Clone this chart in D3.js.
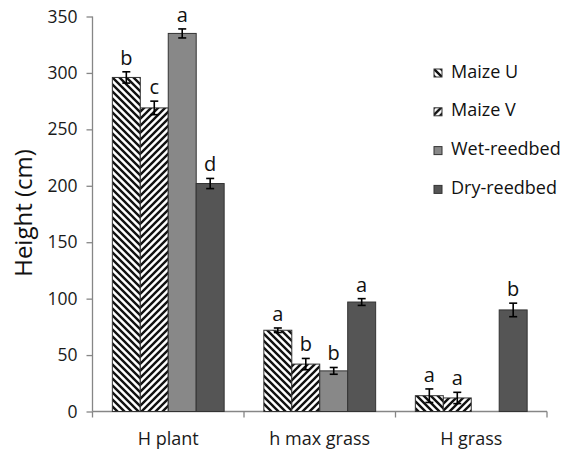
<!DOCTYPE html>
<html>
<head>
<meta charset="utf-8">
<script src="https://cdn.jsdelivr.net/npm/d3@7"></script>
<style>
  body { margin: 0; background: #fff; }
  text { font-family: "Open Sans", Lato, sans-serif; }
</style>
</head>
<body>
<script>
// categories and series
const categories = ["H plant", "h max grass", "H grass"];
const series = ["Maize U", "Maize V", "Wet-reedbed", "Dry-reedbed"];

// means per series, in category order
const maizeU = [296, 72, 14];
const maizeV = [269, 42, 12];
const wetReedbed = [335, 36, null];
const dryReedbed = [202, 97, 90];

// standard errors
const errMaizeU = [5, 2, 6];
const errMaizeV = [6, 5, 5];
const errWet = [4, 3, null];
const errDry = [4.5, 3, 6];

// significance letters
const letMaizeU = ["b", "a", "a"];
const letMaizeV = ["c", "b", "a"];
const letWet = ["a", "b", ""];
const letDry = ["d", "a", "b"];

const yTicks = [0, 50, 100, 150, 200, 250, 300, 350];

const values = [maizeU, maizeV, wetReedbed, dryReedbed];
const errors = [errMaizeU, errMaizeV, errWet, errDry];
const letters = [letMaizeU, letMaizeV, letWet, letDry];

let data = [];
categories.forEach((c, ci) => {
    series.forEach((s, si) => {
        data.push({
            cat: c, ser: s,
            value: values[si][ci],
            err: errors[si][ci],
            letter: letters[si][ci]
        });
    });
});

const width = 567, height = 451;
const mLeft = 92.5, mRight = 547, mTop = 16.5, mBottom = 411.5;

const svg = d3.select("body").append("svg")
    .attr("width", width)
    .attr("height", height);

// hatch patterns
const defs = svg.append("defs");
function hatch(id, dir) {
    const p = defs.append("pattern")
        .attr("id", id)
        .attr("patternUnits", "userSpaceOnUse")
        .attr("width", 7).attr("height", 7);
    p.append("rect").attr("width", 7).attr("height", 7).attr("fill", "#fff");
    const d = dir > 0
        ? "M-1,6 L1,8 M0,0 L7,7 M6,-1 L8,1"
        : "M-1,1 L1,-1 M0,7 L7,0 M6,8 L8,6";
    p.append("path").attr("d", d)
        .attr("stroke", "#111").attr("stroke-width", 2.4);
}
hatch("hatchU", 1);
hatch("hatchV", -1);

const fills = {
    "Maize U": "url(#hatchU)",
    "Maize V": "url(#hatchV)",
    "Wet-reedbed": "#888888",
    "Dry-reedbed": "#555555"
};

const x = d3.scaleBand()
    .domain(categories)
    .range([mLeft, mRight])
    .padding(0);

const xs = d3.scaleBand()
    .domain(series)
    .range([0, x.bandwidth()])
    .paddingInner(0)
    .paddingOuter(0.71);

const y = d3.scaleLinear()
    .domain([0, 350])
    .range([mBottom, mTop]);

// y axis
const yAxis = svg.append("g")
    .attr("transform", "translate(" + mLeft + ",0)")
    .call(d3.axisLeft(y).tickValues(yTicks).tickSize(6).tickPadding(9));
yAxis.select(".domain").attr("stroke", "#868686").attr("stroke-width", 1.3).attr("d", "M0," + mTop + "V" + mBottom);
yAxis.selectAll(".tick line").attr("stroke", "#868686").attr("stroke-width", 1.3);
yAxis.selectAll(".tick text")
    .attr("fill", "#1a1a1a")
    .style("font-family", "'Open Sans', sans-serif")
    .style("font-size", "17.5px");

// x axis
const xAxis = svg.append("g")
    .attr("transform", "translate(0," + mBottom + ")");
xAxis.append("line")
    .attr("x1", mLeft).attr("x2", mRight)
    .attr("stroke", "#868686").attr("stroke-width", 1.3);
xAxis.selectAll(".xtick")
    .data([mLeft].concat(categories.map(c => x(c) + x.bandwidth())))
    .enter().append("line")
    .attr("x1", d => d).attr("x2", d => d)
    .attr("y1", 0).attr("y2", 6)
    .attr("stroke", "#868686").attr("stroke-width", 1.3);
xAxis.selectAll(".xlab")
    .data(categories)
    .enter().append("text")
    .attr("x", d => x(d) + x.bandwidth() / 2)
    .attr("y", 33.5)
    .attr("text-anchor", "middle")
    .attr("fill", "#1a1a1a")
    .style("font-size", "18px")
    .text(d => d);

// y title
svg.append("text")
    .attr("transform", "translate(32,213) rotate(-90)")
    .attr("text-anchor", "middle")
    .attr("fill", "#111")
    .style("font-size", "24px")
    .text("Height (cm)");

// bars
const bars = data.filter(d => d.value != null);
svg.selectAll(".bar")
    .data(bars)
    .enter().append("rect")
    .attr("x", d => x(d.cat) + xs(d.ser))
    .attr("y", d => y(d.value))
    .attr("width", xs.bandwidth())
    .attr("height", d => y(0) - y(d.value))
    .attr("fill", d => fills[d.ser])
    .attr("stroke", "#333")
    .attr("stroke-width", 1);

// error bars
const eb = svg.selectAll(".err")
    .data(bars)
    .enter().append("g")
    .attr("transform", d => "translate(" + (x(d.cat) + xs(d.ser) + xs.bandwidth() / 2) + ",0)");
eb.append("line")
    .attr("y1", d => y(d.value + d.err)).attr("y2", d => y(d.value - d.err))
    .attr("stroke", "#000").attr("stroke-width", 1.6);
eb.append("line")
    .attr("x1", -4).attr("x2", 4)
    .attr("y1", d => y(d.value + d.err)).attr("y2", d => y(d.value + d.err))
    .attr("stroke", "#000").attr("stroke-width", 1.6);
eb.append("line")
    .attr("x1", -4).attr("x2", 4)
    .attr("y1", d => y(d.value - d.err)).attr("y2", d => y(d.value - d.err))
    .attr("stroke", "#000").attr("stroke-width", 1.6);

// letters
eb.append("text")
    .attr("y", d => y(d.value + d.err) - 7)
    .attr("text-anchor", "middle")
    .attr("fill", "#111")
    .style("font-size", "20px")
    .text(d => d.letter);

// legend
const legend = svg.selectAll(".leg")
    .data(series)
    .enter().append("g")
    .attr("transform", (d, i) => "translate(434," + (69 + i * 38.8) + ")");
legend.append("rect")
    .attr("width", 8).attr("height", 8)
    .attr("fill", d => fills[d])
    .attr("stroke", "#333").attr("stroke-width", 1);
legend.append("text")
    .attr("x", 17).attr("y", 8.5)
    .attr("fill", "#111")
    .style("font-size", "18px")
    .text(d => d);
</script>
</body>
</html>
